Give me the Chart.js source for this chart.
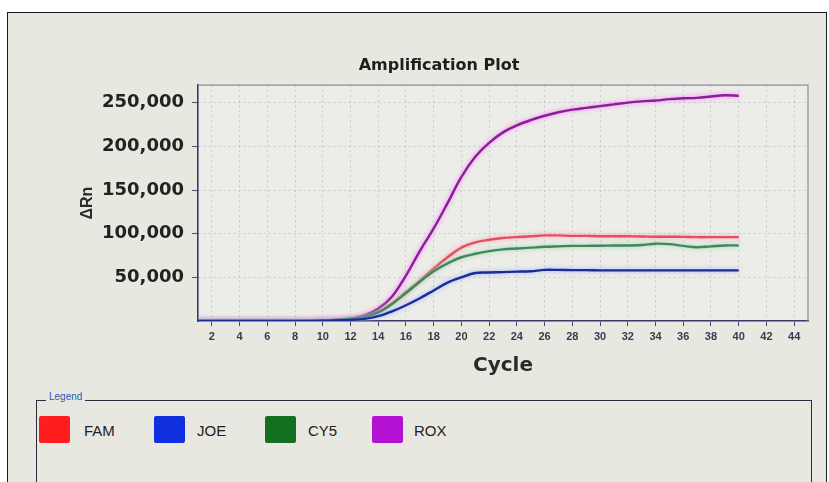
<!DOCTYPE html>
<html>
<head>
<meta charset="utf-8">
<script src="https://cdn.jsdelivr.net/npm/chart.js@4.4.1/dist/chart.umd.min.js"></script>
<style>
  html, body { margin: 0; padding: 0; background: #ffffff; }
  body { width: 829px; height: 482px; overflow: hidden; position: relative; font-family: "Liberation Sans", Arial, sans-serif; }
  #frame { position: absolute; left: 7px; top: 12px; width: 818px; height: 480px; background: #e8e8e0;
           border-left: 1.5px solid #1a1a1a; border-top: 1.5px solid #1a1a1a; border-right: 1.5px solid #1a1a1a; }
  #chartWrap { position: absolute; left: 0; top: 0; width: 829px; height: 391px; }
  #legendBox { position: absolute; left: 36px; top: 400px; width: 774px; height: 100px;
               border-top: 1.5px solid #2a2a40; border-left: 1.5px solid #2a2a40; border-right: 1.5px solid #2a2a40; }
  #legendTitle { position: absolute; left: 46px; top: 391px; font-size: 10px; color: #2858b8; background: #e8e8e0; padding: 0 3px; }
  .sw { position: absolute; top: 416px; width: 31px; height: 27px; border-radius: 2px; }
  .lbl { position: absolute; top: 422px; font-size: 15px; color: #222; }
</style>
</head>
<body>
<div id="frame"></div>
<div id="chartWrap"><canvas id="c"></canvas></div>
<div id="legendBox"></div>
<div id="legendTitle">Legend</div>
<div id="legend"></div>
<script>
// ---- data ----
const cycles = [1,2,3,4,5,6,7,8,9,10,11,12,13,14,15,16,17,18,19,20,21,22,23,24,25,26,27,28,29,30,31,32,33,34,35,36,37,38,39,40];
const famValues = [0,0,0,0,0,0,0,0,200,500,1200,2500,5000,10000,20000,33000,46000,60000,73000,84000,90000,93000,95000,96000,97000,98000,98000,97500,97500,97000,97000,97000,96800,96500,96500,96300,96000,96000,96000,96000];
const joeValues = [0,0,0,0,0,0,0,0,100,300,700,1300,2500,5500,11000,18000,26000,35000,44000,50000,55000,55500,56000,56500,57000,58500,58500,58300,58200,58000,58000,58000,58000,58000,58000,58000,58000,58000,58000,58000];
const cy5Values = [0,0,0,0,0,0,0,0,200,500,1100,2300,4800,9800,19500,32000,45000,57000,66000,73000,77000,80000,82000,83000,84000,85000,85500,86000,86000,86200,86500,86500,87000,88500,88000,86000,84500,85500,86500,86500];
const roxValues = [0,0,0,0,0,0,0,100,300,800,1500,3000,6500,14000,28000,52000,80000,106000,135000,165000,188000,204000,216000,224000,230000,235000,239000,242000,244000,246000,248000,250000,251500,252500,254000,255000,255500,257000,258500,258000];
const seriesNames = ["FAM", "JOE", "CY5", "ROX"];
const xTickValues = [2,4,6,8,10,12,14,16,18,20,22,24,26,28,30,32,34,36,38,40,42,44];
const yTickValues = [50000,100000,150000,200000,250000];

// ---- styles ----
const lineColors = { FAM: "#e0505e", JOE: "#1c2a9a", CY5: "#3c8a5c", ROX: "#8a1e98" };
const glowColors = { FAM: "rgba(255,150,170,0.9)", JOE: "rgba(140,170,255,0.9)", CY5: "rgba(150,210,170,0.9)", ROX: "rgba(255,110,255,0.95)" };
const legendColors = { FAM: "#ff1e1e", JOE: "#1030e0", CY5: "#127020", ROX: "#b412d2" };
const legendPos = [{sw:39, lbl:84}, {sw:154, lbl:197}, {sw:265, lbl:308}, {sw:372, lbl:414}];
const wideFont = '"DejaVu Sans", sans-serif';

const valuesByName = { FAM: famValues, JOE: joeValues, CY5: cy5Values, ROX: roxValues };

// legend
const legend = document.getElementById('legend');
seriesNames.forEach((n, i) => {
  const sw = document.createElement('div');
  sw.className = 'sw';
  sw.style.left = legendPos[i].sw + 'px';
  sw.style.background = legendColors[n];
  legend.appendChild(sw);
  const lb = document.createElement('div');
  lb.className = 'lbl';
  lb.style.left = legendPos[i].lbl + 'px';
  lb.textContent = n;
  legend.appendChild(lb);
});

const datasets = ["JOE", "CY5", "FAM", "ROX"].map(n => ({
  label: n,
  data: cycles.map((c, i) => ({ x: c, y: valuesByName[n][i] })),
  borderColor: lineColors[n],
  glow: glowColors[n],
  borderWidth: 2.4,
  pointRadius: 0,
  tension: 0.35,
  fill: false
}));

const areaPlugin = {
  id: 'area',
  beforeDraw(chart) {
    const { ctx, chartArea: a } = chart;
    ctx.save();
    ctx.fillStyle = '#ecece8';
    ctx.fillRect(a.left, a.top, a.right - a.left, a.bottom - a.top);
    ctx.restore();
  },
  afterDraw(chart) {
    const { ctx, chartArea: a } = chart;
    ctx.save();
    ctx.strokeStyle = '#8c8ca4';
    ctx.lineWidth = 1.2;
    ctx.beginPath();
    ctx.moveTo(a.left, a.top); ctx.lineTo(a.right, a.top); ctx.lineTo(a.right, a.bottom);
    ctx.stroke();
    ctx.restore();
  },
  beforeDatasetDraw(chart, args) {
    const ds = chart.data.datasets[args.index];
    chart.ctx.save();
    chart.ctx.shadowColor = ds.glow;
    chart.ctx.shadowBlur = 4;
  },
  afterDatasetDraw(chart) {
    chart.ctx.restore();
  }
};

new Chart(document.getElementById('c'), {
  type: 'line',
  data: { datasets },
  plugins: [areaPlugin],
  options: {
    responsive: true,
    maintainAspectRatio: false,
    animation: false,
    layout: { padding: { left: 70, right: 21, top: 0, bottom: 0 } },
    plugins: {
      legend: { display: false },
      tooltip: { enabled: false },
      title: {
        display: true,
        text: 'Amplification Plot',
        color: '#1e1e1e',
        font: { family: wideFont, size: 16, weight: 'bold' },
        padding: { top: 56, bottom: 10 }
      }
    },
    scales: {
      x: {
        type: 'linear',
        min: 1, max: 45,
        afterBuildTicks: s => { s.ticks = xTickValues.map(v => ({ value: v })); },
        afterFit: s => { s.height = 70; },
        grid: { color: 'rgba(150,150,175,0.4)', lineWidth: 1, tickLength: 5, tickColor: '#4a4a70' },
        border: { color: '#3a3a66', width: 1.6, dash: [2, 3] },
        ticks: { color: '#3a3a55', maxRotation: 0, autoSkip: false, padding: 4,
                 font: { family: '"Liberation Sans", Arial, sans-serif', size: 11, weight: 'bold' } },
        title: { display: true, text: 'Cycle', color: '#2a2a2a',
                 font: { family: wideFont, size: 20, weight: 'bold' },
                 padding: { top: 0, bottom: 13 } }
      },
      y: {
        min: 0, max: 270000,
        afterBuildTicks: s => { s.ticks = yTickValues.map(v => ({ value: v })); },
        afterFit: s => { s.width = 128; },
        grid: { color: 'rgba(150,150,175,0.4)', lineWidth: 1, tickLength: 6, tickColor: '#4a4a70' },
        border: { color: '#3a3a66', width: 1.6, dash: [2, 3] },
        ticks: { color: '#222', padding: 8,
                 callback: v => v.toLocaleString('en-US'),
                 font: { family: wideFont, size: 18, weight: 'bold' } },
        title: { display: true, text: 'ΔRn', color: '#2a2a2a',
                 font: { family: '"Liberation Sans", Arial, sans-serif', size: 16, weight: 'bold' },
                 padding: { top: 8, bottom: 0 } }
      }
    }
  }
});
</script>
</body>
</html>
